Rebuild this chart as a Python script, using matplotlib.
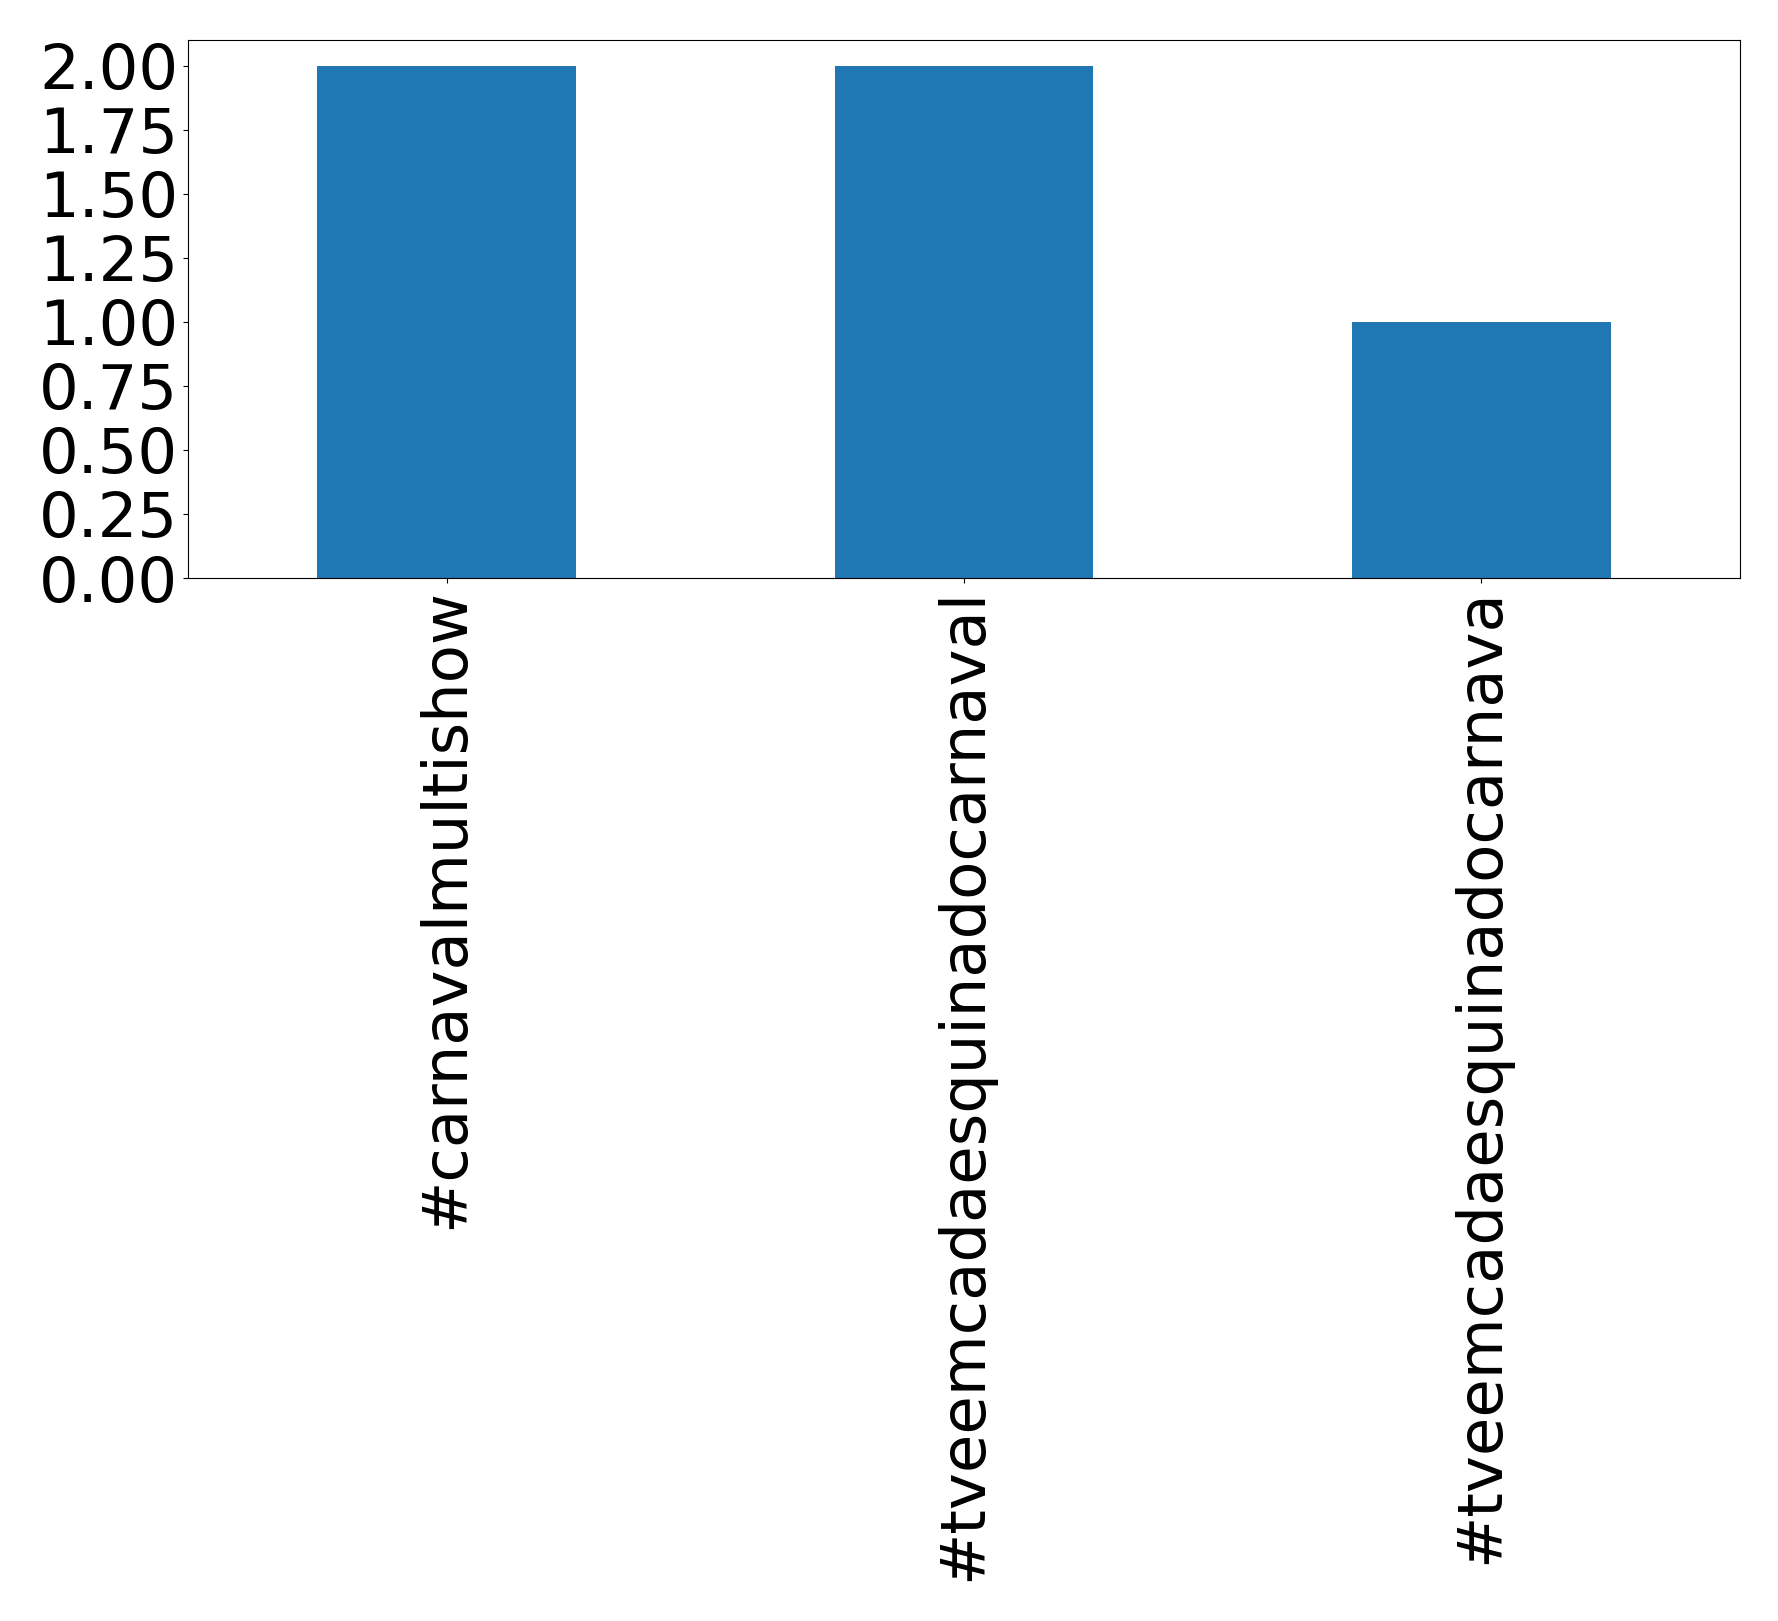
import matplotlib
matplotlib.use('Agg')
import matplotlib.pyplot as plt
import pandas as pd

# hashtag counts
hashtags = ['#carnavalmultishow', '#tveemcadaesquinadocarnaval', '#tveemcadaesquinadocarnava']
counts = [2, 2, 1]

series = pd.Series(counts, index=hashtags)

fig = plt.figure(figsize=(17.78, 16.21), dpi=100)
ax = fig.add_axes([0.1057, 0.6434, 0.8729, 0.3319])
series.plot(kind='bar', ax=ax, color='#1f77b4', fontsize=45)
ax.set_ylim(0, 2.1)
ax.set_yticks([0, 0.25, 0.5, 0.75, 1.0, 1.25, 1.5, 1.75, 2.0])
ax.set_yticklabels([f'{v:.2f}' for v in ax.get_yticks()])

fig.savefig('out.png', dpi=100)
